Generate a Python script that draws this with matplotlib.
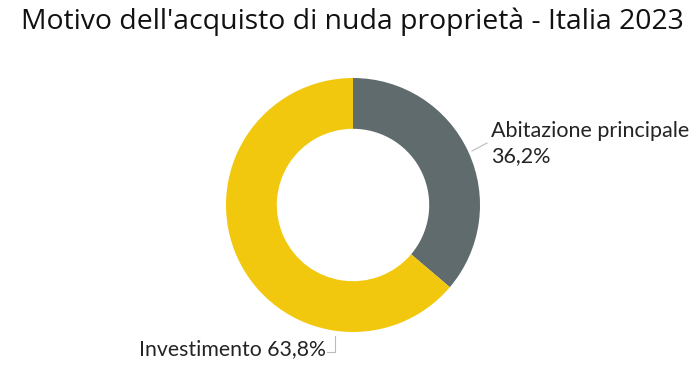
import matplotlib
matplotlib.use("Agg")
import matplotlib.pyplot as plt

categories = ["Abitazione principale", "Investimento"]
values = [36.2, 63.8]
labels_pct = ["36,2%", "63,8%"]
colors = ["#5F6B6D", "#F2C80F"]
title = "Motivo dell'acquisto di nuda proprietà - Italia 2023"

W, H = 700, 367
cx, cy, R = 353, 205, 127

fig = plt.figure(figsize=(7, 3.67), dpi=100)
fig.patch.set_facecolor("white")
ax = fig.add_axes([0, 0, 1, 1])

ax.pie(values, colors=colors, startangle=90, counterclock=False, radius=1,
       wedgeprops=dict(width=0.4, edgecolor="none"), center=(0, 0))
ax.set_xlim(-cx / R, (W - cx) / R)
ax.set_ylim(-(H - cy) / R, cy / R)
ax.set_aspect("equal")
ax.axis("off")

def d(px, py):
    return ((px - cx) / R, (cy - py) / R)

# leader lines
p1, p2 = d(472, 151), d(487, 143)
ax.plot([p1[0], p2[0]], [p1[1], p2[1]], color="#bbbbbb", lw=0.8)
q1, q2, q3 = d(327, 352), d(335, 352), d(335, 336)
ax.plot([q1[0], q2[0], q3[0]], [q1[1], q2[1], q3[1]], color="#bbbbbb", lw=0.8)

lab_font = "Lato"
tx, ty = d(491, 131)
ax.text(tx, ty, categories[0], fontsize=15.5, family=lab_font, color="#252423",
        ha="left", va="center")
tx, ty = d(491, 156)
ax.text(tx, ty, labels_pct[0], fontsize=15.5, family=lab_font, color="#252423",
        ha="left", va="center")
tx, ty = d(326, 349)
ax.text(tx, ty, f"{categories[1]} {labels_pct[1]}", fontsize=15.3, family=lab_font,
        color="#252423", ha="right", va="center")

fig.text(21 / W, 1 - 22 / H, title, fontsize=20.4, family="Open Sans",
         color="#111111", ha="left", va="center")

fig.savefig("out.png", dpi=100, facecolor="white")
